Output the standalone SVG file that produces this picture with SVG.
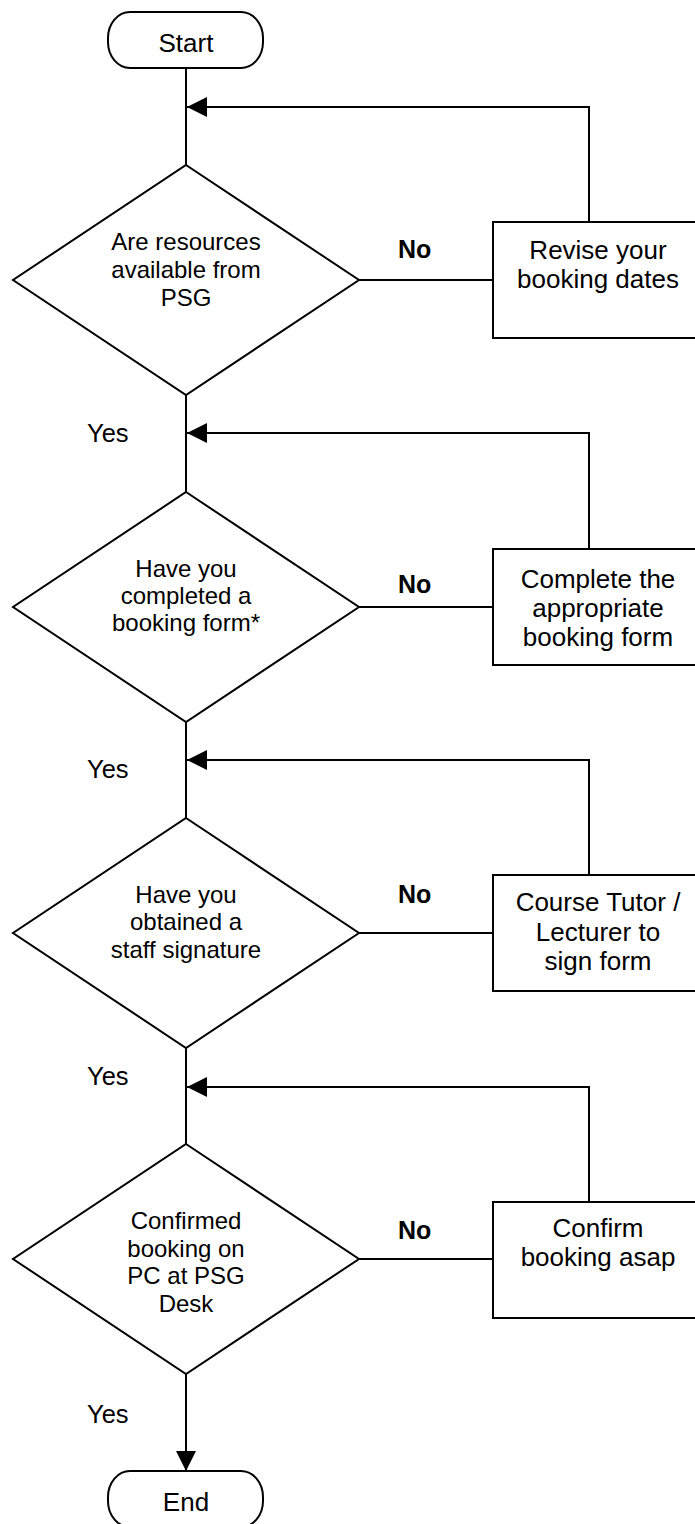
<svg xmlns="http://www.w3.org/2000/svg" width="695" height="1524" viewBox="0 0 695 1524">
<style>
  .shape { fill: #ffffff; stroke: #000000; stroke-width: 2; }
  .line { fill: none; stroke: #000000; stroke-width: 2; }
  .t { font-family: "Liberation Sans", Arial, sans-serif; fill: #000000; text-anchor: middle; }
  .term { font-size: 26px; }
  .dtxt { font-size: 24px; }
  .btxt { font-size: 26px; }
  .no { font-family: "Liberation Sans", Arial, sans-serif; font-size: 25px; font-weight: bold; fill: #000000; }
  .yes { font-family: "Liberation Sans", Arial, sans-serif; font-size: 25.5px; fill: #000000; }
</style>
<defs>
  <marker id="arrow" markerUnits="userSpaceOnUse" markerWidth="20" markerHeight="20" refX="20" refY="10" orient="auto" viewBox="0 0 20 20">
    <path d="M0,0 L20,10 L0,20 z" fill="#000000"/>
  </marker>
</defs>

<g id="connectors">
  <line class="line" x1="186" y1="68" x2="186" y2="165"/>
  <line class="line" x1="186" y1="395" x2="186" y2="492"/>
  <line class="line" x1="186" y1="722" x2="186" y2="818"/>
  <line class="line" x1="186" y1="1048" x2="186" y2="1144"/>
  <line class="line" x1="186" y1="1374" x2="186" y2="1471" marker-end="url(#arrow)"/>

  <line class="line" x1="358" y1="280" x2="493" y2="280"/>
  <line class="line" x1="358" y1="607" x2="493" y2="607"/>
  <line class="line" x1="358" y1="933" x2="493" y2="933"/>
  <line class="line" x1="358" y1="1259" x2="493" y2="1259"/>

  <polyline class="line" points="589,222 589,107 187,107" marker-end="url(#arrow)"/>
  <polyline class="line" points="589,549 589,433 187,433" marker-end="url(#arrow)"/>
  <polyline class="line" points="589,875 589,760 187,760" marker-end="url(#arrow)"/>
  <polyline class="line" points="589,1202 589,1087 187,1087" marker-end="url(#arrow)"/>

  <text class="no" x="398" y="258">No</text>
  <text class="no" x="398" y="593">No</text>
  <text class="no" x="398" y="903">No</text>
  <text class="no" x="398" y="1239">No</text>

  <text class="yes" x="87" y="442">Yes</text>
  <text class="yes" x="87" y="778">Yes</text>
  <text class="yes" x="87" y="1085">Yes</text>
  <text class="yes" x="87" y="1423">Yes</text>
</g>

<g id="start">
  <rect class="shape" x="108" y="12" width="155" height="56" rx="22" ry="26"/>
  <text class="t term" x="186" y="52">Start</text>
</g>

<g id="decision1">
  <polygon class="shape" points="186,165 359,280 186,395 13,280"/>
  <text class="t dtxt" x="186" y="250">Are resources</text>
  <text class="t dtxt" x="186" y="278">available from</text>
  <text class="t dtxt" x="186" y="306">PSG</text>
</g>

<g id="box1">
  <rect class="shape" x="493" y="222" width="215" height="116"/>
  <text class="t btxt" x="598" y="259">Revise your</text>
  <text class="t btxt" x="598" y="288">booking dates</text>
</g>

<g id="decision2">
  <polygon class="shape" points="186,492 359,607 186,722 13,607"/>
  <text class="t dtxt" x="186" y="577">Have you</text>
  <text class="t dtxt" x="186" y="604">completed a</text>
  <text class="t dtxt" x="186" y="631">booking form*</text>
</g>

<g id="box2">
  <rect class="shape" x="493" y="549" width="215" height="116"/>
  <text class="t btxt" x="598" y="588">Complete the</text>
  <text class="t btxt" x="598" y="617">appropriate</text>
  <text class="t btxt" x="598" y="646">booking form</text>
</g>

<g id="decision3">
  <polygon class="shape" points="186,818 359,933 186,1048 13,933"/>
  <text class="t dtxt" x="186" y="903">Have you</text>
  <text class="t dtxt" x="186" y="930">obtained a</text>
  <text class="t dtxt" x="186" y="958">staff signature</text>
</g>

<g id="box3">
  <rect class="shape" x="493" y="875" width="215" height="116"/>
  <text class="t btxt" x="598" y="911">Course Tutor /</text>
  <text class="t btxt" x="598" y="941">Lecturer to</text>
  <text class="t btxt" x="598" y="970">sign form</text>
</g>

<g id="decision4">
  <polygon class="shape" points="186,1144 359,1259 186,1374 13,1259"/>
  <text class="t dtxt" x="186" y="1229">Confirmed</text>
  <text class="t dtxt" x="186" y="1257">booking on</text>
  <text class="t dtxt" x="186" y="1284">PC at PSG</text>
  <text class="t dtxt" x="186" y="1312">Desk</text>
</g>

<g id="box4">
  <rect class="shape" x="493" y="1202" width="215" height="116"/>
  <text class="t btxt" x="598" y="1237">Confirm</text>
  <text class="t btxt" x="598" y="1266">booking asap</text>
</g>

<g id="end">
  <rect class="shape" x="108" y="1471" width="155" height="56" rx="22" ry="26"/>
  <text class="t term" x="186" y="1511">End</text>
</g>
</svg>
